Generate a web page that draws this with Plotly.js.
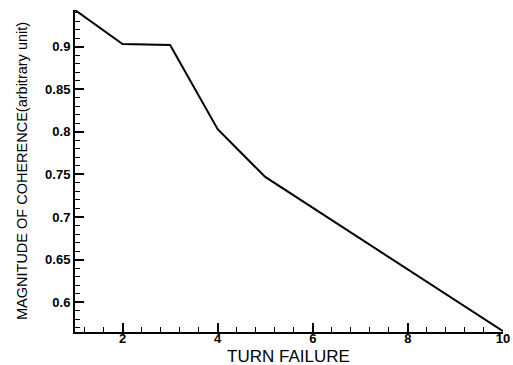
<!DOCTYPE html>
<html>
<head>
<meta charset="utf-8">
<script src="https://cdn.plot.ly/plotly-3.0.1.min.js"></script>
<style>html,body{margin:0;padding:0;background:#fff}#chart{width:513px;height:365px}</style>
</head>
<body>
<div id="chart"></div>
<script>
const turnFailure = [1, 2, 3, 4, 5, 6, 7, 8, 9, 10];
const coherence = [0.943, 0.903, 0.902, 0.803, 0.747, 0.711, 0.675, 0.639, 0.603, 0.566];
const xTitle = 'TURN FAILURE';
const yTitle = 'MAGNITUDE OF COHERENCE(arbitrary unit)';

const trace = {
  x: turnFailure, y: coherence, type: 'scatter', mode: 'lines',
  line: {color: '#000', width: 2}, hoverinfo: 'skip'
};

const tickFont = {family: 'Liberation Sans, Arial, sans-serif', size: 13, color: '#000', weight: 'bold'};

const layout = {
  width: 513, height: 365,
  margin: {l: 75, r: 10, t: 10, b: 33},
  paper_bgcolor: '#fff', plot_bgcolor: '#fff',
  showlegend: false,
  xaxis: {
    range: [1, 10], tick0: 0, dtick: 2,
    showgrid: false, zeroline: false,
    showline: true, linecolor: '#000', linewidth: 2,
    ticks: 'inside', ticklen: 9, tickwidth: 2, tickcolor: '#000',
    tickfont: tickFont, ticklabelstandoff: -7,
    minor: {ticks: 'inside', dtick: 0.4, tick0: 0, ticklen: 5, tickwidth: 1, tickcolor: '#000', showgrid: false}
  },
  yaxis: {
    range: [0.565, 0.943], tick0: 0, dtick: 0.05,
    showgrid: false, zeroline: false,
    showline: true, linecolor: '#000', linewidth: 2,
    ticks: 'inside', ticklen: 9, tickwidth: 2, tickcolor: '#000',
    tickfont: tickFont,
    minor: {ticks: 'inside', dtick: 0.01, tick0: 0, ticklen: 5, tickwidth: 1, tickcolor: '#000', showgrid: false}
  },
  annotations: [
    {text: xTitle, xref: 'paper', yref: 'paper', x: (288 - 75) / 428, y: 1 - (356.5 - 10) / 322,
     xanchor: 'center', yanchor: 'middle', showarrow: false,
     font: {family: 'Liberation Sans, Arial, sans-serif', size: 17, color: '#000'}},
    {text: yTitle, xref: 'paper', yref: 'paper', x: (22 - 75) / 428, y: 1 - (171 - 10) / 322,
     xanchor: 'center', yanchor: 'middle', showarrow: false, textangle: -90,
     font: {family: 'Liberation Sans, Arial, sans-serif', size: 14.5, color: '#000'}}
  ]
};

Plotly.newPlot('chart', [trace], layout, {displayModeBar: false, staticPlot: true});
</script>
</body>
</html>
